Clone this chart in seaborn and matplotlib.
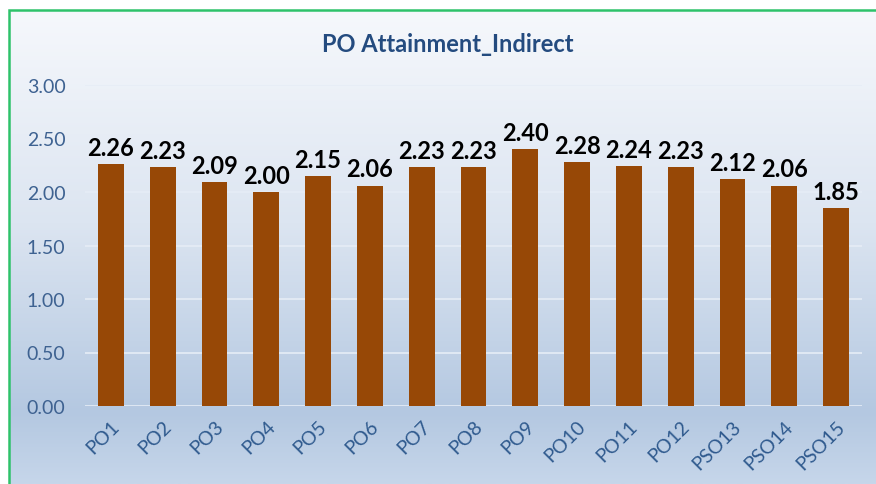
import numpy as np
import matplotlib
matplotlib.use('Agg')
import matplotlib.pyplot as plt
import matplotlib.patches as mpatches
from matplotlib.colors import LinearSegmentedColormap
import pandas as pd
import seaborn as sns

labels = ['PO1', 'PO2', 'PO3', 'PO4', 'PO5', 'PO6', 'PO7', 'PO8', 'PO9', 'PO10',
          'PO11', 'PO12', 'PSO13', 'PSO14', 'PSO15']
values = [2.26, 2.23, 2.09, 2.00, 2.15, 2.06, 2.23, 2.23, 2.40, 2.28,
          2.24, 2.23, 2.12, 2.06, 1.85]

df = pd.DataFrame({'po': labels, 'attainment': values})

sns.set_style('white')
plt.rcParams['font.family'] = ['Lato', 'DejaVu Sans']

fig = plt.figure(figsize=(8.76, 4.85), dpi=100)
fig.patch.set_facecolor('white')

# gradient background inside the chart frame
bg = fig.add_axes([9 / 876, 0, 1 - 9 / 876, 1 - 11 / 485], zorder=0)
cmap = LinearSegmentedColormap.from_list('bg', [(0, '#F6F8FC'), (0.45, '#DCE5F1'),
                                                (0.85, '#B4C8E1'), (1, '#C6D6EA')])
grad = np.linspace(0, 1, 256).reshape(-1, 1)
bg.imshow(grad, aspect='auto', cmap=cmap, extent=[0, 1, 0, 1], origin='upper')
bg.axis('off')
fig.patches.append(mpatches.Rectangle((9 / 876, -0.05), 1.2, 1 - 11 / 485 + 0.05,
                                      transform=fig.transFigure, fill=False,
                                      edgecolor='#2EC26A', linewidth=1.8, zorder=5))

ax = fig.add_axes([85 / 876, 1 - 407 / 485, (862 - 85) / 876, (407 - 86) / 485], zorder=1)
ax.patch.set_alpha(0)
sns.barplot(data=df, x='po', y='attainment', color='#974806', saturation=1,
            width=0.5, linewidth=0, ax=ax, zorder=3)

for p, v in zip(ax.patches, values):
    ax.text(p.get_x() + p.get_width() / 2, v + 0.05, f'{v:.2f}', ha='center', va='bottom',
            fontsize=17, fontweight='bold', color='black')

ax.set_ylim(0, 3)
ax.set_yticks(np.arange(0, 3.01, 0.5))
ax.set_yticklabels([f'{t:.2f}' for t in np.arange(0, 3.01, 0.5)])
ax.yaxis.grid(True, color='#E6EDF6', linewidth=1.2, zorder=0)
ax.set_axisbelow(True)
for s in ax.spines.values():
    s.set_visible(False)
ax.tick_params(axis='y', length=0, pad=14, labelsize=14, labelcolor='#3E6291')
ax.tick_params(axis='x', length=0, pad=8, labelsize=14, labelcolor='#2F5A8E')
plt.setp(ax.get_xticklabels(), rotation=45, ha='right', rotation_mode='anchor')
ax.set_xlabel('')
ax.set_ylabel('')

fig.text(448 / 876, 1 - 44 / 485, 'PO Attainment_Indirect', ha='center', va='center',
         fontsize=17, fontweight='bold', color='#244B7F')

fig.savefig('out.png', dpi=100)
